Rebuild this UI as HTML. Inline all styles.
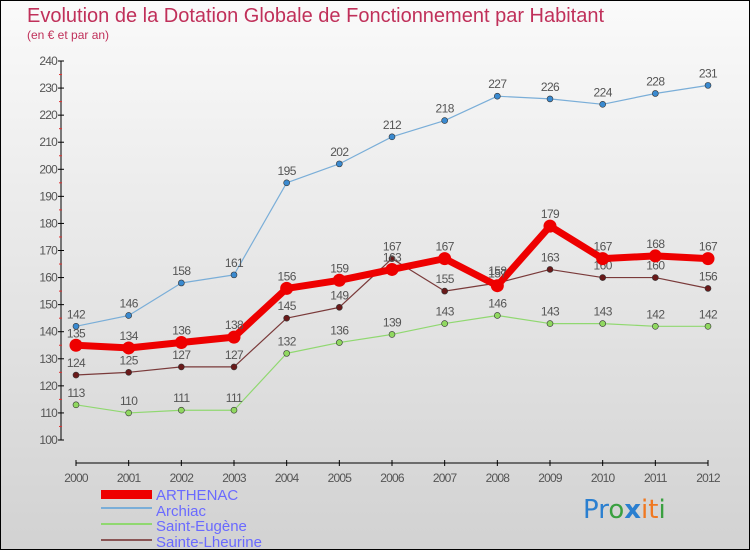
<!DOCTYPE html>
<html><head><meta charset="utf-8"><style>
html,body{margin:0;padding:0}
body{width:750px;height:550px;overflow:hidden;font-family:"Liberation Sans",sans-serif}
#wrap{position:relative;width:748px;height:548px;border:1px solid #000;background:linear-gradient(#fafafa,#d2d2d2)}
</style></head><body>
<div id="wrap">
<svg id="chart" width="748" height="548" style="position:absolute;left:0;top:0">
<text x="26" y="21" font-size="20" fill="#c0305a" font-weight="300">Evolution de la Dotation Globale de Fonctionnement par Habitant</text>
<text x="26" y="38" font-size="12" fill="#c0305a">(en € et par an)</text>
<g id="axes"></g><g id="series"></g>
<g>
<rect x="100" y="489" width="51" height="9" fill="#e00"/>
<text x="155" y="499" font-size="15" fill="#6a6aff">ARTHENAC</text>
<line x1="100" y1="507" x2="151" y2="507" stroke="#7aaed8" stroke-width="2"/>
<text x="155" y="515" font-size="15" fill="#6a6aff">Archiac</text>
<line x1="100" y1="523" x2="151" y2="523" stroke="#90d870" stroke-width="2"/>
<text x="155" y="530" font-size="15" fill="#6a6aff">Saint-Eugène</text>
<line x1="100" y1="539" x2="151" y2="539" stroke="#8a5555" stroke-width="2"/>
<text x="155" y="546" font-size="15" fill="#6a6aff">Sainte-Lheurine</text>
</g>
<text x="582" y="517" font-size="26" font-family="'DejaVu Sans',sans-serif"><tspan fill="#2a7fd0">Pr</tspan><tspan fill="#3aa040">o</tspan><tspan fill="#2a7fd0" font-weight="bold">x</tspan><tspan fill="#f07820">it</tspan><tspan fill="#3aa040">i</tspan></text>
</svg>
</div>
<script>
const years=[2000,2001,2002,2003,2004,2005,2006,2007,2008,2009,2010,2011,2012];
const arthenac=[135,134,136,138,156,159,163,167,157,179,167,168,167];
const archiac=[142,146,158,161,195,202,212,218,227,226,224,228,231];
const saintEugene=[113,110,111,111,132,136,139,143,146,143,143,142,142];
const sainteLheurine=[124,125,127,127,145,149,167,155,158,163,160,160,156];
const yTicks=[100,110,120,130,140,150,160,170,180,190,200,210,220,230,240];
const NS="http://www.w3.org/2000/svg";
const xs=i=>75+i*(632/12);
const ys=v=>439-(v-100)*(379/140);
function mk(tag,attrs,parent,txt){const e=document.createElementNS(NS,tag);for(const k in attrs)e.setAttribute(k,attrs[k]);if(txt!==undefined)e.textContent=txt;parent.appendChild(e);return e;}
const ax=document.getElementById('axes');
let yl=mk('line',{x1:60,y1:ys(240),x2:60,y2:ys(100),stroke:'#000'},ax);


yTicks.forEach(t=>{
 mk('line',{x1:57,x2:63,y1:ys(t),y2:ys(t),stroke:'#000'},ax);
 if(t<240)mk('line',{x1:58,x2:61,y1:ys(t+5),y2:ys(t+5),stroke:'#e03030'},ax);
 const tx=mk('text',{x:56,y:ys(t)+4,'font-size':12,fill:'#555','text-anchor':'end','letter-spacing':'-0.8'},ax,t);
 
 
});
let xl=mk('line',{x1:75,y1:462,x2:707,y2:462,stroke:'#000'},ax);


years.forEach((y,i)=>{
 mk('line',{x1:xs(i),x2:xs(i),y1:459,y2:465,stroke:'#000'},ax);
 const tx=mk('text',{x:xs(i),y:481,'font-size':12,fill:'#555','text-anchor':'middle','letter-spacing':'-0.8'},ax,y);
 
 
});
const sg=document.getElementById('series');
function draw(vals,color,w,r,dot,name){
 const g=mk('g',{},sg);
 
 
 const pl=mk('polyline',{points:vals.map((v,i)=>xs(i)+','+ys(v)).join(' '),fill:'none',stroke:color,'stroke-width':w,'stroke-linejoin':'round'},g);
 
 
 vals.forEach((v,i)=>{
  const c=mk('circle',{cx:xs(i),cy:ys(v),r:r,fill:dot,stroke:'#333','stroke-width':r>4?0:0.6},g);
  
  
  const t=mk('text',{x:xs(i),y:ys(v)-8,'font-size':12,fill:'#555','text-anchor':'middle','letter-spacing':'-0.6'},g,v);
  
  
 });
}
draw(saintEugene,'#90d870',1.2,3,'#90d860','saint-eugene');
draw(sainteLheurine,'#7a3a3a',1.2,3,'#6a1a1a','sainte-lheurine');
draw(archiac,'#7aaed8',1.2,3,'#3a8ad0','archiac');
draw(arthenac,'#ee0000',7,6.5,'#ee0000','arthenac');
</script>
</body></html>
